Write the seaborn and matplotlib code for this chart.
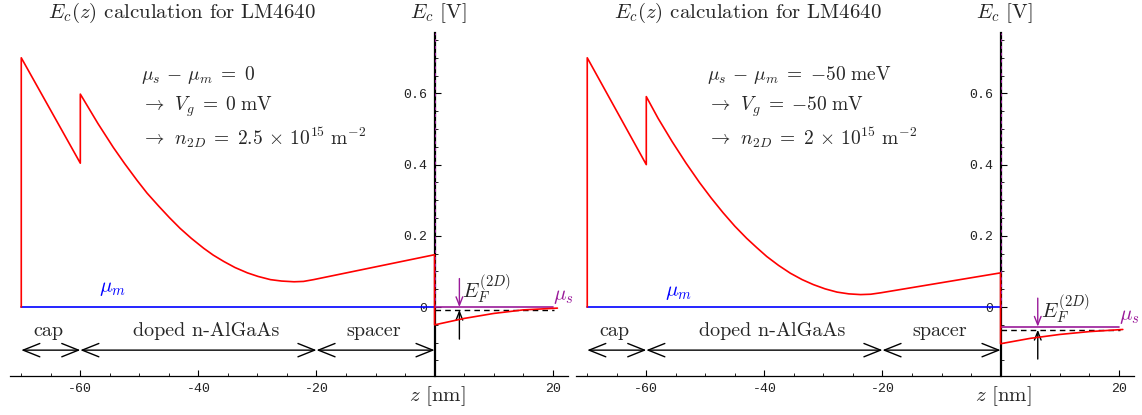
import matplotlib
matplotlib.use("Agg")
import matplotlib.pyplot as plt
import seaborn as sns
import pandas as pd
from matplotlib.ticker import FixedLocator, MultipleLocator, FixedFormatter

# --- datos ---
z_left = [-70, -70, -60, -60, -57.0, -54.4, -52.5, -50.4, -48.7, -46.7, -44.9,
          -43.1, -41.2, -39.1, -37.5, -35.7, -33.8, -31.7, -29.9, -27.8, -25.9,
          -23.8, -22.2, -20.5, 0, 0, 5, 10, 15, 20.8]
ec_left = [0, 0.70, 0.404, 0.598, 0.515, 0.448, 0.403, 0.356, 0.320, 0.283, 0.251,
           0.221, 0.193, 0.165, 0.146, 0.128, 0.111, 0.096, 0.086, 0.077, 0.073,
           0.071, 0.072, 0.077, 0.147, -0.050, -0.032, -0.018, -0.008, -0.003]

z_right = [-70, -70, -60, -60, -58.0, -55.6, -53.3, -51.0, -49.0, -47.0, -45.0,
           -43.0, -41.3, -39.6, -37.6, -35.6, -33.6, -31.7, -29.7, -27.7, -25.7,
           -23.7, -22.0, -20.3, 0, 0, 5, 10, 15, 20.7]
ec_right = [0, 0.70, 0.40, 0.591, 0.530, 0.464, 0.405, 0.350, 0.306, 0.265, 0.227,
            0.193, 0.167, 0.142, 0.117, 0.095, 0.077, 0.063, 0.051, 0.042, 0.037,
            0.035, 0.036, 0.040, 0.096, -0.103, -0.088, -0.077, -0.069, -0.063]

mu_s = [0.0, -0.055]
e0 = [-0.008, -0.064]
ef_arrow_z = [4.2, 6.3]

info_lines = [
    [r"$\mu_s \,-\, \mu_m \;=\; 0$", r"$\rightarrow\;\, V_g \;=\; 0\ \mathrm{mV}$",
     r"$\rightarrow\;\, n_{2D} \;=\; 2.5 \,\times\, 10^{15}\ \mathrm{m}^{-2}$"],
    [r"$\mu_s \,-\, \mu_m \;=\; {-}50\ \mathrm{meV}$",
     r"$\rightarrow\;\, V_g \;=\; {-}50\ \mathrm{mV}$",
     r"$\rightarrow\;\, n_{2D} \;=\; 2 \,\times\, 10^{15}\ \mathrm{m}^{-2}$"],
]

regions = ["cap", "doped n-AlGaAs", "spacer"]
region_edges = [-70, -60, -20, 0]
region_label_z = [-65.4, -38.6, -10.3]

xtick_vals = [-60, -40, -20, 20]
xtick_labels = ["-60", "-40", "-20", "20"]
ytick_vals = [0, 0.2, 0.4, 0.6]
ytick_labels = ["0", "0.2", "0.4", "0.6"]

RED = "#ff0000"
BLUE = "#0000ff"
PURPLE = "#9a1a9a"

sns.set_theme(style="white")
plt.rcParams["font.family"] = "serif"
plt.rcParams["font.serif"] = ["cmr10", "DejaVu Serif"]
plt.rcParams["mathtext.fontset"] = "cm"
plt.rcParams["axes.unicode_minus"] = False
plt.rcParams["axes.formatter.use_mathtext"] = True

fig = plt.figure(figsize=(11.42, 4.15), dpi=100)
ax_l = fig.add_axes([0.0088, 0.0928, 0.4886, 0.828])
ax_r = fig.add_axes([0.5044, 0.0928, 0.4886, 0.828])

panels = [(ax_l, z_left, ec_left), (ax_r, z_right, ec_right)]

for i, (ax, zz, ee) in enumerate(panels):
    df = pd.DataFrame({"z": zz, "Ec": ee})
    sns.lineplot(data=df, x="z", y="Ec", sort=False, estimator=None,
                 color=RED, lw=1.2, ax=ax, zorder=4)

    # niveles de Fermi
    ax.plot([-70, 0], [0, 0], color=BLUE, lw=1.2, zorder=3)
    ax.plot([0, 20], [mu_s[i], mu_s[i]], color=PURPLE, lw=1.2, zorder=3)
    ax.plot([0, 20.3], [e0[i], e0[i]], color="black", lw=1.0, ls=(0, (4, 3)), zorder=3)
    ax.plot([0, 0], [0, 0.77], color=PURPLE, lw=0.7, ls=(0, (3, 4)), zorder=5)

    # flechas de E_F
    za = ef_arrow_z[i]
    ax.annotate("", xy=(za, mu_s[i]), xytext=(za, mu_s[i] + 0.08),
                arrowprops=dict(arrowstyle="->,head_length=0.5,head_width=0.2",
                                color=PURPLE, lw=1.0, shrinkA=0, shrinkB=0))
    ax.annotate("", xy=(za, e0[i]), xytext=(za, e0[i] - 0.082),
                arrowprops=dict(arrowstyle="->,head_length=0.5,head_width=0.2",
                                color="black", lw=1.0, shrinkA=0, shrinkB=0))
    ax.text(za + 0.5, mu_s[i] + 0.05, r"$E_F^{(2D)}$", fontsize=15,
            va="center", ha="left")
    ax.text(20.1, mu_s[i] + 0.028, r"$\mu_s$", fontsize=15, color=PURPLE,
            va="center", ha="left", clip_on=False)
    ax.text(-56.8, 0.05 - 0.01 * i, r"$\mu_m$", fontsize=15, color=BLUE,
            va="center", ha="left")

    # regiones de la heteroestructura
    for k, name in enumerate(regions):
        a, b = region_edges[k], region_edges[k + 1]
        ax.annotate("", xy=(b, -0.121), xytext=(a, -0.121),
                    arrowprops=dict(arrowstyle="<->,head_length=1.0,head_width=0.4",
                                    color="black", lw=1.0, shrinkA=0, shrinkB=0))
        ax.text(region_label_z[k], -0.068, name, fontsize=14.5,
                ha="center", va="center")

    # bloque de texto
    for k, line in enumerate(info_lines[i]):
        ax.text(-49.8, 0.651 - 0.088 * k, line, fontsize=14, ha="left", va="center")

    # titulos y etiquetas de ejes
    ax.text(-65.4, 0.825, r"$E_c(z)$ calculation for LM4640", fontsize=15,
            ha="left", va="center", clip_on=False)
    ax.text(-4.2, 0.825, r"$E_c$ [V]", fontsize=15, ha="left", va="center",
            clip_on=False)
    ax.text(-4.4, -0.25, r"$z$ [nm]", fontsize=15, ha="left", va="center",
            clip_on=False)

    # ejes al estilo Mathematica
    ax.set_xlim(-71.9, 22.6)
    ax.set_ylim(-0.195, 0.77)
    ax.set_xlabel("")
    ax.set_ylabel("")
    ax.spines["top"].set_visible(False)
    ax.spines["right"].set_visible(False)
    ax.spines["left"].set_position(("data", 0))
    ax.spines["left"].set_linewidth(1.6)
    ax.spines["bottom"].set_linewidth(0.9)
    for s in ("left", "bottom"):
        ax.spines[s].set_color("black")

    ax.xaxis.set_major_locator(FixedLocator(xtick_vals))
    ax.xaxis.set_major_formatter(FixedFormatter(xtick_labels))
    ax.xaxis.set_minor_locator(MultipleLocator(5))
    ax.yaxis.set_major_locator(FixedLocator(ytick_vals))
    ax.yaxis.set_major_formatter(FixedFormatter(ytick_labels))
    ax.yaxis.set_minor_locator(MultipleLocator(0.05))
    ax.tick_params(which="both", direction="in", color="black",
                   bottom=True, left=True)
    ax.tick_params(which="major", length=4, width=0.8, labelsize=9.5,
                   labelfontfamily="Liberation Mono", labelcolor="#222222", pad=5)
    ax.tick_params(which="minor", length=2.2, width=0.6)
    ax.set_facecolor("white")
    ax.patch.set_alpha(0)

fig.savefig("out.png", dpi=100, facecolor="white")
